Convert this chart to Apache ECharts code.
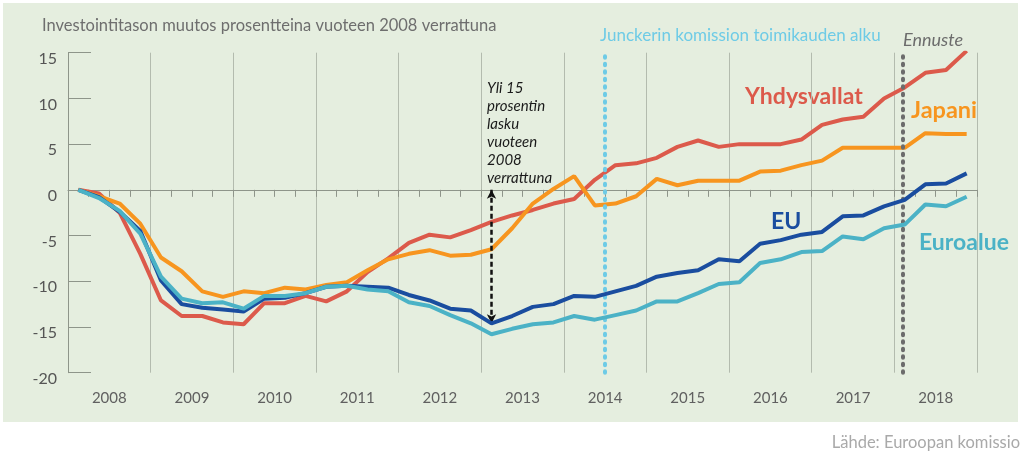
<!DOCTYPE html>
<html>
<head>
<meta charset="utf-8">
<script src="https://cdn.jsdelivr.net/npm/echarts@6/dist/echarts.min.js"></script>
<style>
html,body{margin:0;padding:0;background:#ffffff;}
#chart{width:1024px;height:459px;}
</style>
</head>
<body>
<div id="chart"></div>
<script>
// Year labels (each year = 4 quarters, 2008Q1 .. 2018Q4)
const years = ['2008','2009','2010','2011','2012','2013','2014','2015','2016','2017','2018'];
const yTicks = [-20, -15, -10, -5, 0, 5, 10, 15];

// Investment level change vs 2008, percent, quarterly
const usa = [0,-0.4,-2.5,-7.0, -12.1,-13.8,-13.8,-14.5, -14.7,-12.4,-12.4,-11.6,
  -12.2,-11.1,-9.0,-7.5, -5.8,-4.9,-5.2,-4.4, -3.5,-2.8,-2.2,-1.5,
  -1.0,1.1,2.7,2.9, 3.5,4.7,5.4,4.7, 5.0,5.0,5.0,5.5, 7.1,7.7,8.0,10.0, 11.2,12.8,13.1,15.2];
const japan = [0,-0.7,-1.5,-3.7, -7.4,-8.9,-11.1,-11.7, -11.1,-11.3,-10.7,-10.9,
  -10.4,-10.1,-8.8,-7.6, -7.0,-6.6,-7.2,-7.1, -6.5,-4.2,-1.5,0.1,
  1.5,-1.7,-1.5,-0.7, 1.2,0.5,1.0,1.0, 1.0,2.0,2.1,2.7, 3.2,4.6,4.6,4.6, 4.6,6.2,6.1,6.1];
const eu = [0,-0.8,-2.4,-4.5, -9.9,-12.5,-12.9,-13.1, -13.3,-11.9,-11.8,-11.3,
  -10.6,-10.5,-10.6,-10.7, -11.5,-12.1,-13.0,-13.2, -14.6,-13.8,-12.8,-12.5,
  -11.6,-11.7,-11.1,-10.5, -9.5,-9.1,-8.8,-7.6, -7.8,-5.9,-5.5,-4.9, -4.6,-2.9,-2.8,-1.8, -1.1,0.6,0.7,1.8];
const euroArea = [0,-0.9,-2.3,-4.8, -9.5,-11.9,-12.4,-12.3, -13.0,-11.6,-11.6,-11.3,
  -10.6,-10.5,-10.9,-11.1, -12.3,-12.7,-13.7,-14.6, -15.8,-15.2,-14.7,-14.5,
  -13.8,-14.2,-13.7,-13.2, -12.2,-12.2,-11.3,-10.3, -10.1,-8.0,-7.6,-6.8, -6.7,-5.1,-5.4,-4.2, -3.8,-1.6,-1.8,-0.75];

// Annotation positions in quarter units from start of 2008
const junckerStart = 26;   // mid-2014
const forecastStart = 40.4; // 2018
const arrowQuarter = 20.5;  // 2013Q1
const arrowBottom = -14.6;

const toPts = arr => arr.map((v, i) => [i + 0.5, v]);

const FONT = 'Lato, "Open Sans", sans-serif';
const chart = echarts.init(document.getElementById('chart'), null, {renderer: 'canvas'});

const option = {
  animation: false,
  backgroundColor: '#ffffff',
  grid: {left: 68, right: 47, top: 52.7, bottom: 86.3, containLabel: false},
  xAxis: [
    {
      type: 'value', min: 0, max: years.length * 4, interval: 4,
      position: 'bottom',
      axisLine: {onZero: true, lineStyle: {color: '#8e958a', width: 1}},
      axisTick: {show: true, length: 7, lineStyle: {color: '#8e958a'}},
      minorTick: {show: true, splitNumber: 4, length: 7, lineStyle: {color: '#8e958a'}},
      axisLabel: {show: false},
      splitLine: {show: true, lineStyle: {color: '#b3bbae', width: 1}}
    },
    {
      type: 'category', data: years, position: 'bottom', boundaryGap: true,
      axisLine: {show: false, onZero: false}, axisTick: {show: false},
      axisLabel: {margin: 18, fontSize: 15, color: '#606060', fontFamily: FONT},
      splitLine: {show: false}
    }
  ],
  yAxis: {
    type: 'value', min: -20, max: 15, interval: 5,
    axisLine: {show: true, lineStyle: {color: '#8e958a'}},
    axisTick: {show: true, inside: true, length: 23, lineStyle: {color: '#8e958a'}},
    axisLabel: {margin: 11, fontSize: 16, color: '#555555', fontFamily: FONT, verticalAlign: 'top', lineHeight: 12},
    splitLine: {show: false}
  },
  series: [
    {
      name: 'Yhdysvallat', type: 'line', data: toPts(usa), symbol: 'none',
      lineStyle: {color: '#dc5a4b', width: 4}, z: 3,
      markLine: {
        silent: true, animation: false,
        symbol: ['none', 'none'],
        label: {show: false},
        data: [
          {xAxis: junckerStart, lineStyle: {color: '#6ecbe6', width: 4, type: [1.5, 6], cap: 'round'}},
          {xAxis: forecastStart, lineStyle: {color: '#6c6c6c', width: 4, type: [1.5, 6], cap: 'round'}}
        ]
      }
    },
    {
      name: 'Japani', type: 'line', data: toPts(japan), symbol: 'none',
      lineStyle: {color: '#f7951f', width: 4}, z: 4
    },
    {
      name: 'EU', type: 'line', data: toPts(eu), symbol: 'none',
      lineStyle: {color: '#1a4d9f', width: 4}, z: 5
    },
    {
      name: 'Euroalue', type: 'line', data: toPts(euroArea), symbol: 'none',
      lineStyle: {color: '#4bb2c6', width: 4}, z: 6,
      markLine: {
        silent: true, animation: false,
        symbol: ['arrow', 'arrow'], symbolSize: [7, 9],
        label: {show: false},
        lineStyle: {color: '#111111', width: 2.5, type: [5, 3]},
        data: [[{coord: [arrowQuarter, 0]}, {coord: [arrowQuarter, arrowBottom]}]]
      }
    }
  ],
  graphic: [
    {type: 'rect', z: -100, silent: true, shape: {x: 3, y: 3, width: 1015, height: 419}, style: {fill: '#e5eedf'}},
    {type: 'text', silent: true, style: {x: 42, y: 26, text: 'Investointitason muutos prosentteina vuoteen 2008 verrattuna', font: '16.5px ' + FONT, fill: '#6e6e6e', textVerticalAlign: 'middle'}},
    {type: 'text', silent: true, style: {x: 600, y: 36, text: 'Junckerin komission toimikauden alku', font: '17px ' + FONT, fill: '#6ecbe6', textVerticalAlign: 'middle'}},
    {type: 'text', silent: true, style: {x: 903, y: 40, text: 'Ennuste', font: 'italic 18px ' + FONT, fill: '#6c6c6c', textVerticalAlign: 'middle'}},
    {type: 'text', silent: true, style: {x: 745, y: 97, text: 'Yhdysvallat', font: 'bold 23px ' + FONT, fill: '#dc5a4b', textVerticalAlign: 'middle'}},
    {type: 'text', silent: true, style: {x: 911, y: 110, text: 'Japani', font: 'bold 23.5px ' + FONT, fill: '#f7951f', textVerticalAlign: 'middle'}},
    {type: 'text', silent: true, style: {x: 771, y: 222, text: 'EU', font: 'bold 23px ' + FONT, fill: '#1a4d9f', textVerticalAlign: 'middle'}},
    {type: 'text', silent: true, style: {x: 919, y: 243, text: 'Euroalue', font: 'bold 23px ' + FONT, fill: '#4bb2c6', textVerticalAlign: 'middle'}},
    {type: 'text', silent: true, style: {x: 487, y: 79, text: 'Yli 15\nprosentin\nlasku\nvuoteen\n2008\nverrattuna', font: 'italic 15px ' + FONT, lineHeight: 18, fill: '#1a1a1a', textVerticalAlign: 'top'}},
    {type: 'text', silent: true, style: {x: 1020, y: 443, text: 'Lähde: Euroopan komissio', font: '16.5px ' + FONT, fill: '#a9a9a9', textAlign: 'right', textVerticalAlign: 'middle'}}
  ]
};
chart.setOption(option);
</script>
</body>
</html>
